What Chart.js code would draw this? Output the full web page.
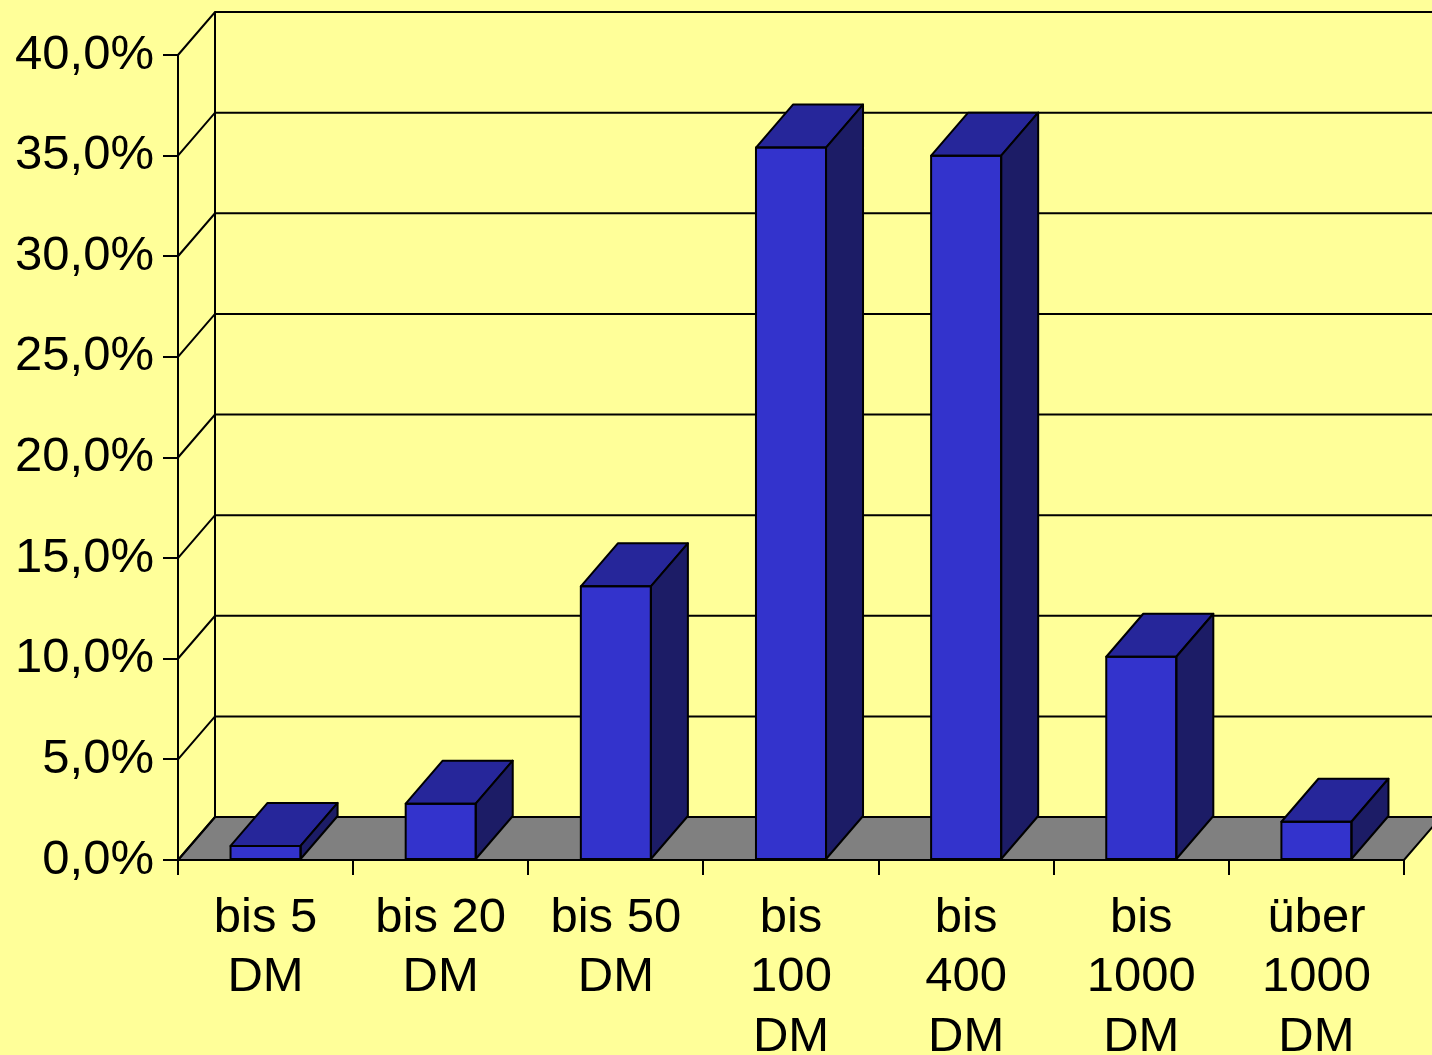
<!DOCTYPE html>
<html>
<head>
<meta charset="utf-8">
<script src="https://cdn.jsdelivr.net/npm/chart.js@4.4.1/dist/chart.umd.min.js"></script>
<style>
  html, body { margin: 0; padding: 0; background: #FFFF99; }
  #wrap { width: 1432px; height: 1055px; position: relative; }
  canvas { display: block; }
</style>
</head>
<body>
<div id="wrap"><canvas id="c" width="1432" height="1055"></canvas></div>
<script>
// ---- data ----
const categories = [
  ["bis 5", "DM"],
  ["bis 20", "DM"],
  ["bis 50", "DM"],
  ["bis", "100", "DM"],
  ["bis", "400", "DM"],
  ["bis", "1000", "DM"],
  ["über", "1000", "DM"]
];
const shares = [0.7, 2.8, 13.6, 35.4, 35.0, 10.1, 1.9];
const yTickValues = [0, 5, 10, 15, 20, 25, 30, 35, 40];

// ---- style ----
const DX = 37, DY = 43;
const FRONT = '#3333CC', TOP = '#26269A', SIDE = '#1C1C66', FLOOR = '#808080';
const FONT = { family: '"Liberation Sans", Arial, sans-serif', size: 49, lineHeight: 1.224 };

const pseudo3d = {
  id: 'pseudo3d',
  beforeDatasetsDraw(chart) {
    const ctx = chart.ctx, y = chart.scales.y, a = chart.chartArea;
    const y0 = y.getPixelForValue(0);
    ctx.save();
    ctx.lineWidth = 2;
    ctx.strokeStyle = '#000';
    // floor
    ctx.beginPath();
    ctx.moveTo(a.left, y0);
    ctx.lineTo(a.right, y0);
    ctx.lineTo(a.right + DX, y0 - DY);
    ctx.lineTo(a.left + DX, y0 - DY);
    ctx.closePath();
    ctx.fillStyle = FLOOR;
    ctx.fill();
    ctx.stroke();
    // back wall grid + diagonals
    yTickValues.forEach(v => {
      const py = y.getPixelForValue(v);
      ctx.beginPath();
      ctx.moveTo(a.left, py);
      ctx.lineTo(a.left + DX, py - DY);
      if (v !== 0) ctx.lineTo(chart.width + 5, py - DY);
      ctx.stroke();
    });
    // back wall left edge
    ctx.beginPath();
    ctx.moveTo(a.left + DX, y0 - DY);
    ctx.lineTo(a.left + DX, y.getPixelForValue(40) - DY);
    ctx.stroke();
    ctx.restore();
  },
  afterDatasetsDraw(chart) {
    const ctx = chart.ctx;
    const meta = chart.getDatasetMeta(0);
    ctx.save();
    ctx.lineWidth = 2;
    ctx.strokeStyle = '#000';
    ctx.lineJoin = 'round';
    meta.data.forEach(bar => {
      const p = bar.getProps(['x', 'y', 'base', 'width'], true);
      const l = p.x - p.width / 2, r = p.x + p.width / 2, t = p.y, b = p.base;
      // top face
      ctx.beginPath();
      ctx.moveTo(l, t); ctx.lineTo(r, t); ctx.lineTo(r + DX, t - DY); ctx.lineTo(l + DX, t - DY);
      ctx.closePath();
      ctx.fillStyle = TOP; ctx.fill(); ctx.stroke();
      // side face
      ctx.beginPath();
      ctx.moveTo(r, t); ctx.lineTo(r + DX, t - DY); ctx.lineTo(r + DX, b - DY); ctx.lineTo(r, b);
      ctx.closePath();
      ctx.fillStyle = SIDE; ctx.fill(); ctx.stroke();
      // front outline
      ctx.strokeRect(l, t, r - l, b - t);
    });
    ctx.restore();
  }
};

new Chart(document.getElementById('c'), {
  type: 'bar',
  data: {
    labels: categories,
    datasets: [{
      data: shares,
      backgroundColor: FRONT,
      borderColor: '#000',
      borderWidth: 0,
      barPercentage: 0.4,
      categoryPercentage: 1.0
    }]
  },
  plugins: [pseudo3d],
  options: {
    responsive: false,
    animation: false,
    events: [],
    layout: { padding: { top: 55, right: 28, left: 0, bottom: 0 } },
    plugins: { legend: { display: false }, tooltip: { enabled: false } },
    scales: {
      x: {
        offset: true,
        grid: { display: true, drawOnChartArea: false, drawTicks: true, tickLength: 15, color: '#000', lineWidth: 2, offset: true },
        border: { display: true, color: '#000', width: 2 },
        ticks: { color: '#000', font: FONT, padding: 13, maxRotation: 0, autoSkip: false },
        afterFit(s) { s.height = 195; }
      },
      y: {
        min: 0, max: 40,
        afterBuildTicks(s) { s.ticks = yTickValues.map(v => ({ value: v })); },
        grid: { display: true, drawOnChartArea: false, drawTicks: true, tickLength: 15, color: '#000', lineWidth: 2 },
        border: { display: true, color: '#000', width: 2 },
        ticks: {
          color: '#000', font: FONT, padding: 9,
          callback: v => v.toFixed(1).replace('.', ',') + '%'
        },
        afterFit(s) { s.width = 178; }
      }
    }
  }
});
</script>
</body>
</html>
